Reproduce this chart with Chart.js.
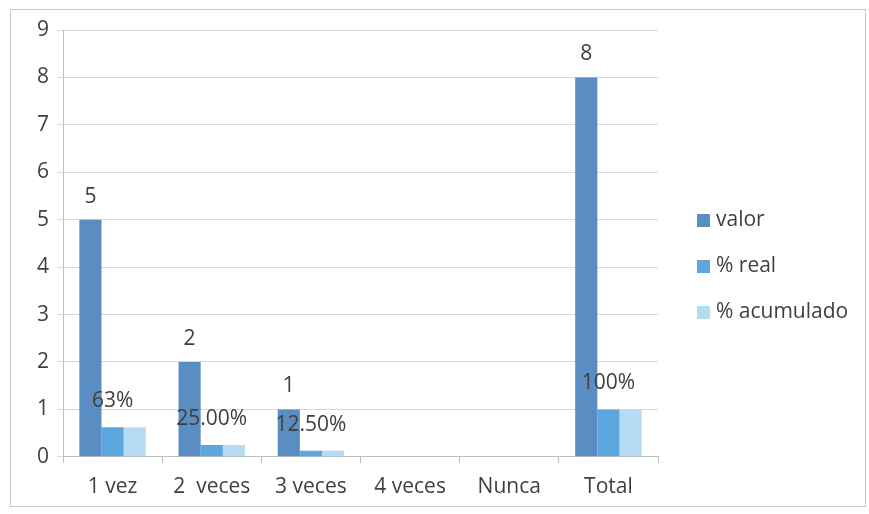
<!DOCTYPE html>
<html>
<head>
<meta charset="utf-8">
<script src="https://cdn.jsdelivr.net/npm/chart.js@4"></script>
<style>
  html, body { margin: 0; padding: 0; background: #fff; }
  #wrap { width: 869px; height: 514px; }
</style>
</head>
<body>
<div id="wrap"><canvas id="chart" width="869" height="514"></canvas></div>
<script>
const categories = ["1 vez", "2  veces", "3 veces", "4 veces", "Nunca", "Total"];
const valor = [5, 2, 1, 0, 0, 8];
const pctReal = [0.625, 0.25, 0.125, 0, 0, 1];
const pctAcumulado = [0.625, 0.25, 0.125, 0, 0, 1];
const valorLabels = ["5", "2", "1", "", "", "8"];
const pctLabels = ["63%", "25.00%", "12.50%", "", "", "100%"];
const yTicks = [0, 1, 2, 3, 4, 5, 6, 7, 8, 9];

const FONT = "'Open Sans', sans-serif";
const SIZE = 21;
const TEXT = "#404040";

// frame, bar labels and the legend on the right
const excelBits = {
  id: "excelBits",
  beforeDraw(chart) {
    const c = chart.ctx;
    c.save();
    c.strokeStyle = "#c8c8c8";
    c.lineWidth = 1;
    c.strokeRect(10.5, 9.5, 855, 497);
    c.restore();
  },
  afterDatasetsDraw(chart) {
    const c = chart.ctx;
    c.save();
    c.font = SIZE + "px " + FONT;
    c.fillStyle = TEXT;
    c.textAlign = "center";
    c.textBaseline = "middle";
    chart.getDatasetMeta(0).data.forEach((bar, i) => {
      if (valorLabels[i]) c.fillText(valorLabels[i], bar.x, bar.y - 23);
    });
    chart.getDatasetMeta(1).data.forEach((bar, i) => {
      if (pctLabels[i]) c.fillText(pctLabels[i], bar.x, bar.y - 26);
    });
    // legend
    c.textAlign = "left";
    chart.data.datasets.forEach((ds, i) => {
      const y = 220 + i * 46;
      c.fillStyle = ds.backgroundColor;
      c.fillRect(697, y - 6, 13, 13);
      c.fillStyle = TEXT;
      c.fillText(ds.label, 716, y);
    });
    c.restore();
  },
};

new Chart(document.getElementById("chart"), {
  type: "bar",
  data: {
    labels: categories,
    datasets: [
      { label: "valor", data: valor, backgroundColor: "#5a8dc1" },
      { label: "% real", data: pctReal, backgroundColor: "#5ea6de" },
      { label: "% acumulado", data: pctAcumulado, backgroundColor: "#b6dbf5" },
    ],
  },
  options: {
    responsive: false,
    animation: false,
    devicePixelRatio: 1,
    categoryPercentage: 0.67,
    barPercentage: 1,
    layout: { padding: { left: 29, right: 211, top: 30, bottom: 2 } },
    plugins: {
      tooltip: { enabled: false },
      legend: { display: false },
    },
    scales: {
      x: {
        grid: { drawOnChartArea: false, color: "#bfbfbf", tickLength: 6 },
        border: { color: "#bfbfbf" },
        ticks: { font: { family: FONT, size: SIZE }, color: TEXT, padding: 12, maxRotation: 0 },
      },
      y: {
        min: 0,
        max: 9,
        afterBuildTicks(axis) {
          axis.ticks = yTicks.map((v) => ({ value: v }));
        },
        grid: { color: "#d9d9d9", tickLength: 6 },
        border: { color: "#bfbfbf" },
        ticks: { font: { family: FONT, size: SIZE }, color: TEXT, padding: 8 },
      },
    },
  },
  plugins: [excelBits],
});
</script>
</body>
</html>
